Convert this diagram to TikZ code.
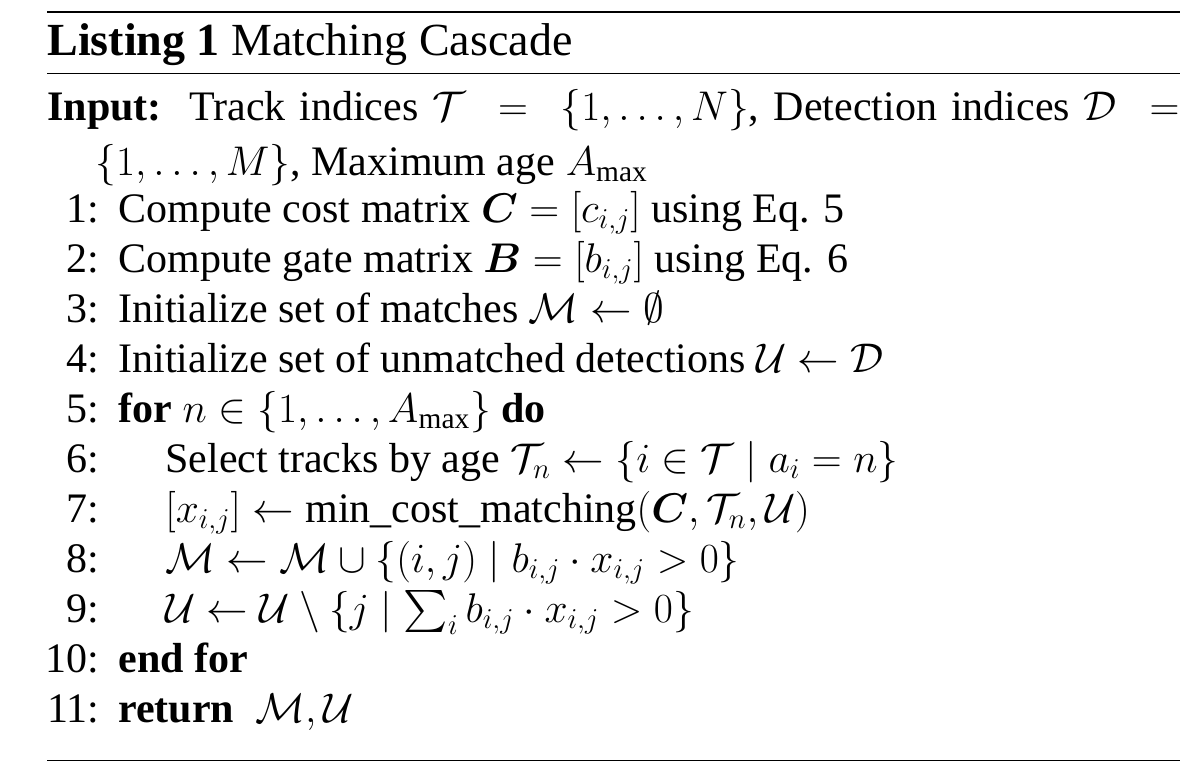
\documentclass[tikz,border=0pt]{standalone}
\usepackage{amsmath,amssymb,bm}
\usepackage{fontspec}
\setmainfont{Liberation Serif}
\begin{document}
\begin{tikzpicture}[x=0.5pt,y=-0.5pt,
  t/.style={anchor=base west,inner sep=0pt,font=\fontsize{21}{24}\selectfont},
  n/.style={anchor=base east,inner sep=0pt,font=\fontsize{21}{24}\selectfont}]
\useasboundingbox (0,0) rectangle (1194,772);
\draw[line width=1.2pt] (47,12) -- (1180,12);
\draw[line width=0.5pt] (47,73) -- (1180,73);
\draw[line width=0.5pt] (47,760) -- (1180,760);
\node[t,font=\fontsize{23}{26}\selectfont] (title) at (47,55) {\textbf{Listing 1} Matching Cascade};
\node[t] (in1) at (47,120) {\hbox to 566pt{\textbf{Input:}\ \ Track indices $\mathcal{T}\ =\ \{1,\ldots,N\}$, Detection indices $\mathcal{D}\ =$}};
\node[t] (in2) at (95,175) {$\{1,\ldots,M\}$, Maximum age $A_{\max}$};
\foreach \i/\y in {1/222,2/272,3/322,4/372,5/422,6/472,7/522,8/572,9/622,10/672,11/722}
  \node[n] (n\i) at (100,\y) {\i:};
\node[t] (l1) at (118,222) {Compute cost matrix $\bm{C}=[c_{i,j}]$ using Eq. 5};
\node[t] (l2) at (118,272) {Compute gate matrix $\bm{B}=[b_{i,j}]$ using Eq. 6};
\node[t] (l3) at (118,322) {Initialize set of matches $\mathcal{M}\leftarrow\emptyset$};
\node[t] (l4) at (118,372) {Initialize set of unmatched detections $\mathcal{U}\leftarrow\mathcal{D}$};
\node[t] (l5) at (118,422) {\textbf{for} $n\in\{1,\ldots,A_{\max}\}$ \textbf{do}};
\node[t] (l6) at (165,472) {Select tracks by age $\mathcal{T}_n\leftarrow\{i\in\mathcal{T}\mid a_i=n\}$};
\node[t] (l7) at (165,522) {$[x_{i,j}]\leftarrow\text{min\_cost\_matching}(\bm{C},\mathcal{T}_n,\mathcal{U})$};
\node[t] (l8) at (165,572) {$\mathcal{M}\leftarrow\mathcal{M}\cup\{(i,j)\mid b_{i,j}\cdot x_{i,j}>0\}$};
\node[t] (l9) at (165,622) {$\mathcal{U}\leftarrow\mathcal{U}\setminus\{j\mid \sum_i b_{i,j}\cdot x_{i,j}>0\}$};
\node[t] (l10) at (118,672) {\textbf{end for}};
\node[t] (l11) at (118,722) {\textbf{return} \ $\mathcal{M},\mathcal{U}$};
\end{tikzpicture}
\end{document}
